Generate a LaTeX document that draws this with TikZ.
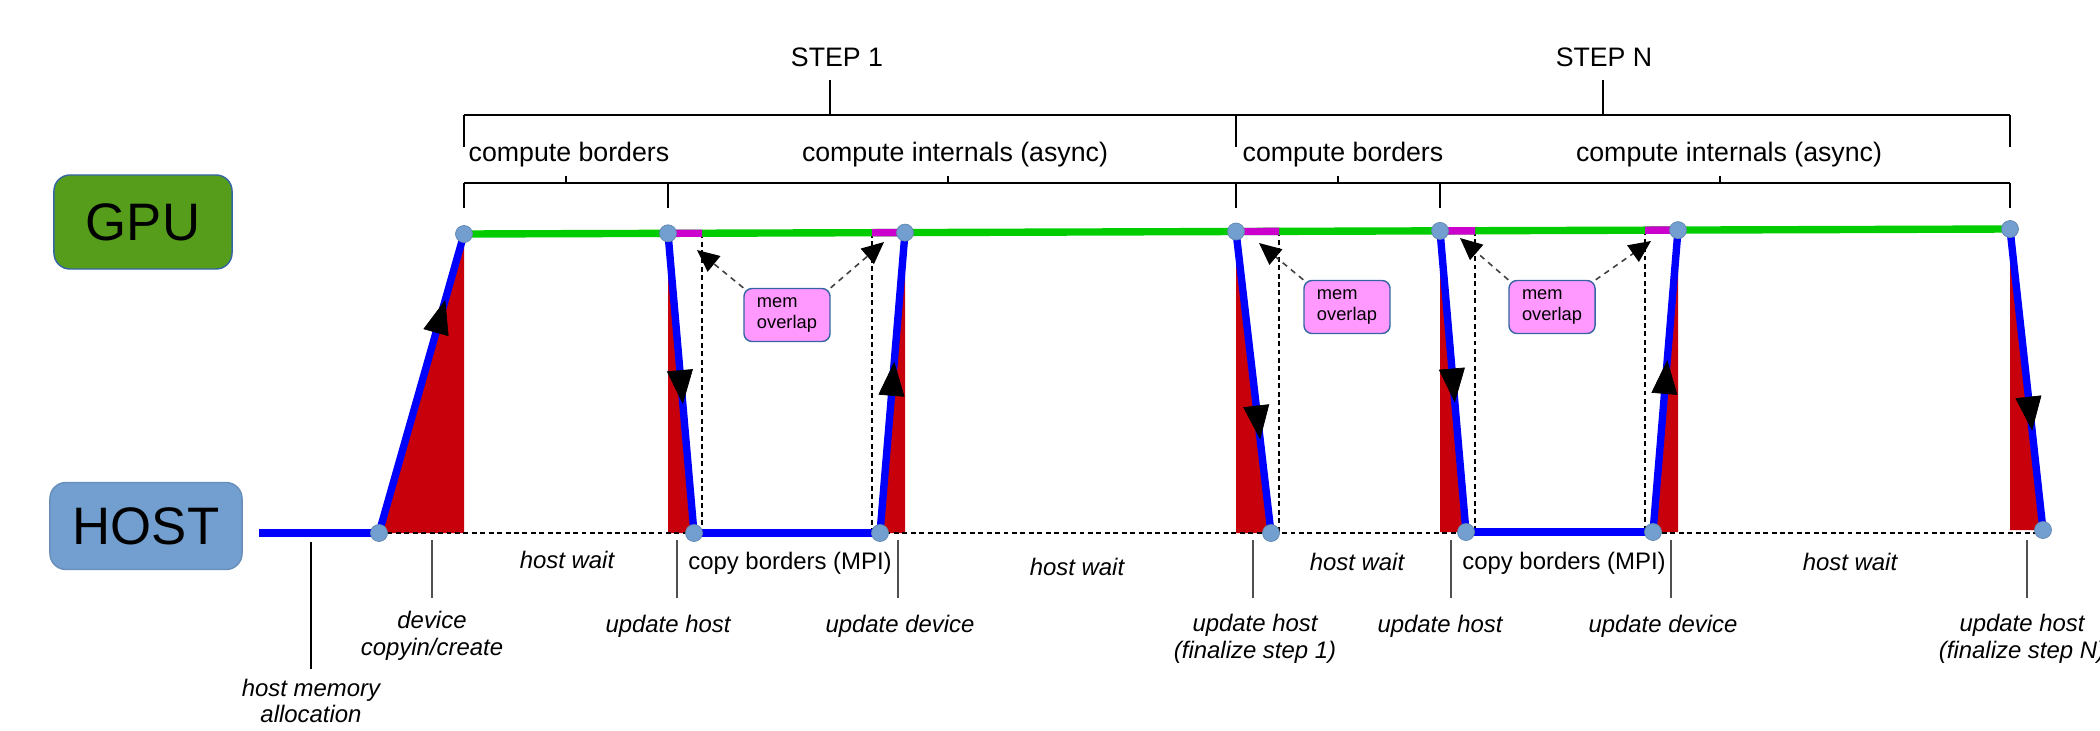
\documentclass[tikz,border=0pt]{standalone}
\usepackage{fontspec}
\setmainfont{Liberation Sans}
\usetikzlibrary{arrows.meta,decorations.markings}
\definecolor{gpugreen}{RGB}{87,157,28}
\definecolor{hostblue}{RGB}{114,159,207}
\definecolor{edgeblue}{RGB}{52,101,164}
\definecolor{linegreen}{RGB}{0,204,0}
\definecolor{linemag}{RGB}{204,0,204}
\definecolor{xred}{RGB}{200,0,12}
\definecolor{pinkbox}{RGB}{255,153,255}
\definecolor{tickgray}{RGB}{80,80,80}
\tikzset{
  lanebox/.style={draw=edgeblue, line width=0.4pt, rounded corners=0.16cm, inner sep=0pt, font=\fontsize{15}{18}\selectfont},
  evnode/.style={circle, fill=hostblue, draw=hostblue!85!black, line width=0.2pt, minimum size=0.17cm, inner sep=0pt},
  gpuline/.style={line width=2.1pt, draw=linegreen},
  magline/.style={line width=2.1pt, draw=linemag},
  hostline/.style={line width=2.1pt, draw=blue},
  xfer/.style={line width=2.1pt, draw=blue, decoration={markings, mark=at position #1 with {\arrow{Triangle[length=0.34cm,width=0.26cm,line width=0.2pt,color=black]}}}, postaction={decorate}},
  bracket/.style={line width=0.6pt, draw=black},
  brtick/.style={line width=0.35pt, draw=black},
  evtick/.style={line width=0.35pt, draw=tickgray},
  dashln/.style={line width=0.55pt, draw=black, dash pattern=on 1.4pt off 1pt},
  memarrow/.style={line width=0.45pt, draw=black!75, dash pattern=on 1.6pt off 1.4pt, -{Triangle[length=0.22cm,width=0.2cm,color=black]}},
  membox/.style={draw=edgeblue, fill=pinkbox, line width=0.4pt, rounded corners=0.08cm, minimum width=0.86cm, minimum height=0.53cm, inner xsep=0.13cm, inner ysep=0pt, text width=0.6cm, align=left, font=\fontsize{5.2}{5.8}\selectfont},
  lbl/.style={inner sep=0pt, font=\fontsize{7.6}{9}\selectfont},
  clbl/.style={inner sep=0pt, font=\fontsize{6.8}{8}\selectfont},
  ilbl/.style={inner sep=0pt, align=center, font=\fontsize{6.8}{7.6}\selectfont\itshape},
}
\begin{document}
\begin{tikzpicture}[x=0.01cm, y=-0.01cm]
\useasboundingbox (0,0) rectangle (2100,730);
% key points
\coordinate (g0) at (464,234);
\coordinate (g1) at (668,233.3);
\coordinate (g2) at (905,232.6);
\coordinate (g3) at (1236,231.5);
\coordinate (g4) at (1440,230.9);
\coordinate (g5) at (1678,230.1);
\coordinate (g6) at (2010,229);
\coordinate (hs) at (259,533);
\coordinate (h0) at (379,533);
\coordinate (h1) at (694,533);
\coordinate (h2) at (880,533);
\coordinate (h3) at (1271,533);
\coordinate (h4) at (1466,532);
\coordinate (h5) at (1653,532);
\coordinate (h6) at (2043,530);
\coordinate (m1) at (702,233.2);
\coordinate (m2) at (872,232.7);
\coordinate (m3) at (1279,231.4);
\coordinate (m4) at (1475,230.8);
\coordinate (m5) at (1645,230.2);
% red transfer areas
\fill[xred] (h0) -- (g0) -- (g0|-h0) -- cycle;
\fill[xred] (g1) -- (g1|-h1) -- (h1) -- cycle;
\fill[xred] (h2) -- (g2) -- (g2|-h2) -- cycle;
\fill[xred] (g3) -- (g3|-h3) -- (h3) -- cycle;
\fill[xred] (g4) -- (g4|-h4) -- (h4) -- cycle;
\fill[xred] (h5) -- (g5) -- (g5|-h5) -- cycle;
\fill[xred] (g6) -- (g6|-h6) -- (h6) -- cycle;
% dashed lines
\draw[dashln] (h0) -- (h6|-h0);
\draw[dashln] (m1) -- (m1|-h1);
\draw[dashln] (m2) -- (m2|-h2);
\draw[dashln] (m3) -- (m3|-h3);
\draw[dashln] (m4) -- (m4|-h4);
\draw[dashln] (m5) -- (m5|-h5);
% GPU line
\draw[gpuline] (g0) -- (g6);
\draw[magline] (g1) -- (m1);
\draw[magline] (m2) -- (g2);
\draw[magline] (g3) -- (m3);
\draw[magline] (g4) -- (m4);
\draw[magline] (m5) -- (g5);
% host lines
\draw[hostline] (hs) -- (h0);
\draw[hostline] (h1) -- (h2);
\draw[hostline] (h4) -- (h5);
% transfers
\draw[xfer=0.78] (h0) -- (g0);
\draw[xfer=0.57] (g1) -- (h1);
\draw[xfer=0.57] (h2) -- (g2);
\draw[xfer=0.69] (g3) -- (h3);
\draw[xfer=0.57] (g4) -- (h4);
\draw[xfer=0.57] (h5) -- (g5);
\draw[xfer=0.67] (g6) -- (h6);
% event nodes
\foreach \p in {g0,g1,g2,g3,g4,g5,g6,h0,h1,h2,h3,h4,h5,h6}
  \node[evnode] (n\p) at (\p) {};
% lanes
\node[lanebox, fill=gpugreen, minimum width=1.78cm, minimum height=0.94cm] (gpu) at (143,222) {GPU};
\node[lanebox, fill=hostblue, draw=hostblue!90!black, minimum width=1.92cm, minimum height=0.87cm] (host) at (146,526) {HOST};
% brackets
\draw[bracket] (464,115) -- (2010,115);
\draw[brtick] (464,115) -- (464,147) (1236,115) -- (1236,147) (2010,115) -- (2010,147);
\draw[brtick] (830,80) -- (830,115) (1603,80) -- (1603,115);
\draw[bracket] (464,183) -- (2010,183);
\draw[brtick] (464,183) -- (464,208) (668,183) -- (668,208) (1236,183) -- (1236,208) (1440,183) -- (1440,208) (2010,183) -- (2010,208);
\draw[brtick] (566,176) -- (566,183) (948,176) -- (948,183) (1338,176) -- (1338,183) (1720,176) -- (1720,183);
\node[lbl] (st1) at (837,57) {STEP 1};
\node[lbl] (stN) at (1604,57) {STEP N};
\node[lbl] (cb1) at (569,155) {compute borders};
\node[lbl] (ci1) at (955,155) {compute internals (async)};
\node[lbl] (cbN) at (1343,155) {compute borders};
\node[lbl] (ciN) at (1729,155) {compute internals (async)};
% mem overlap
\node[membox] (mo1) at (787,315) {mem\\overlap};
\node[membox] (mo2) at (1347,307) {mem\\overlap};
\node[membox] (mo3) at (1552,307) {mem\\overlap};
\coordinate (t1) at (697,250);
\coordinate (t2) at (884,242);
\coordinate (t3) at (1259,243);
\coordinate (t4) at (1460,238);
\coordinate (t5) at (1651,241);
\draw[memarrow] (mo1.north west) -- (t1);
\draw[memarrow] (mo1.north east) -- (t2);
\draw[memarrow] (mo2.north west) -- (t3);
\draw[memarrow] (mo3.north west) -- (t4);
\draw[memarrow] (mo3.north east) -- (t5);
% event ticks below
\draw[line width=0.8pt] (311,542) -- (311,669);
\draw[evtick] (432,540) -- (432,598) (677,540) -- (677,598) (898,540) -- (898,598) (1253,540) -- (1253,598) (1451,540) -- (1451,598) (1671,540) -- (1671,598) (2027,540) -- (2027,598);
\node[ilbl] (hma) at (311,701) {host memory\\allocation};
\node[ilbl] (dci) at (432,636) {device\\copyin/create};
\node[ilbl] (hw1) at (567,560) {host wait};
\node[clbl] (cp1) at (790,563) {copy borders (MPI)};
\node[ilbl] (uh1) at (668,626) {update host};
\node[ilbl] (ud1) at (900,626) {update device};
\node[ilbl] (hw2) at (1077,567) {host wait};
\node[ilbl] (fs1) at (1255,639) {update host\\(finalize step 1)};
\node[ilbl] (hw3) at (1357,562) {host wait};
\node[clbl] (cpN) at (1564,563) {copy borders (MPI)};
\node[ilbl] (uhN) at (1440,626) {update host};
\node[ilbl] (udN) at (1663,626) {update device};
\node[ilbl] (hw4) at (1850,562) {host wait};
\node[ilbl] (fsN) at (2022,639) {update host\\(finalize step N)};
\end{tikzpicture}
\end{document}
